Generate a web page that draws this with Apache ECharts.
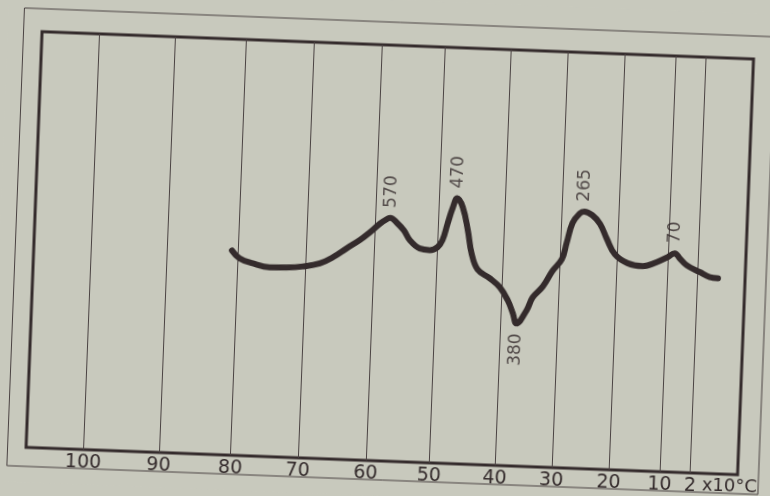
<!DOCTYPE html>
<html>
<head>
<meta charset="utf-8">
<script src="https://cdn.jsdelivr.net/npm/echarts@6/dist/echarts.min.js"></script>
<style>
  html, body { margin: 0; padding: 0; background: #c8c9bd; overflow: hidden; }
  #chart { width: 770px; height: 496px; transform: rotate(2.2deg); }
</style>
</head>
<body>
<div id="chart"></div>
<script>
// x axis is in units of 10 °C, the scale of the recorder is not linear
const tickTemps = [100, 90, 80, 70, 60, 50, 40, 30, 20, 10, 2];
// where each tick sits across the frame, % of the frame width
const tickPos = [8.07, 18.67, 28.74, 38.22, 47.75, 56.67, 65.92, 73.87, 81.92, 89.08, 93.36];

// DTA trace (temperature x10 °C, deflection % of frame height)
const curveT = [80.9, 79.8, 77.8, 75.3, 72.8, 70.4, 67.9, 66.0, 64.0, 62.1, 60.7, 59.2, 58.0, 57.6, 56.5,
  55.4, 54.4, 52.8, 51.2, 50.0, 49.3, 48.6, 47.9, 47.3, 46.4, 45.5, 44.8, 43.8, 41.9, 40.3, 38.9, 37.9,
  37.2, 35.5, 34.5, 32.8, 31.2, 29.6, 28.9, 28.0, 26.8, 26.0, 24.6, 23.2, 21.9, 20.4, 17.9, 14.9,
  12.2, 10.1, 8.3, 6.9, 5.0, 1.5, -1.1, -3.3];
const curveV = [49.2, 47.4, 46.3, 45.5, 45.6, 46.0, 46.9, 48.5, 50.8, 52.9, 54.8, 57.0, 58.3, 58.5, 57.3,
  55.6, 53.3, 51.4, 51.1, 51.9, 53.6, 57.7, 61.6, 63.8, 61.7, 56.2, 50.7, 46.9, 44.9, 42.8, 39.8, 36.7,
  34.3, 37.5, 40.7, 43.4, 47.2, 50.2, 54.0, 58.9, 61.3, 61.8, 61.0, 59.0, 55.4, 51.8, 49.8, 49.2,
  50.3, 51.6, 52.6, 51.4, 49.8, 48.3, 47.2, 47.0];

// peak annotations
const peakT = [57.6, 47.3, 37.2, 26.0, 8.3];
const peakV = [58.5, 63.8, 34.3, 61.8, 52.6];
const peakText = ["570", "470", "380", "265", "70"];
const peakBelow = [false, false, true, false, false];

function warp(t) {
  let i = 0;
  while (i < tickTemps.length - 2 && t < tickTemps[i + 1]) i++;
  const t0 = tickTemps[i], t1 = tickTemps[i + 1];
  return tickPos[i] + (t - t0) * (tickPos[i + 1] - tickPos[i]) / (t1 - t0);
}

const ink = "#342b2c";
const tickVals = tickTemps.map(warp);

const myChart = echarts.init(document.getElementById("chart"));

const options = {
  backgroundColor: "#c8c9bd",
  animation: false,
  graphic: [
    {
      type: "rect",
      shape: { x: 15.5, y: 22, width: 751.5, height: 458 },
      style: { fill: "none", stroke: "#4a4242", lineWidth: 1 },
      silent: true
    }
  ],
  grid: {
    left: 34,
    top: 45,
    width: 712,
    height: 416,
    show: true,
    borderColor: ink,
    borderWidth: 3,
    outerBoundsMode: "none"
  },
  xAxis: {
    type: "value",
    min: 0,
    max: 100,
    name: "x10°C",
    nameLocation: "end",
    nameGap: -45,
    nameTextStyle: {
      fontFamily: "DejaVu Sans",
      fontSize: 18,
      color: ink,
      align: "left",
      verticalAlign: "top",
      padding: [3, 0, 0, 0]
    },
    axisLine: { show: false },
    axisTick: { show: false, customValues: tickVals },
    splitLine: { show: true, lineStyle: { color: "#4a4242", width: 1 } },
    axisLabel: {
      customValues: tickVals,
      interval: 0,
      hideOverlap: false,
      margin: 4,
      fontFamily: "DejaVu Sans",
      fontSize: 19,
      color: ink,
      formatter: function (v) {
        for (let i = 0; i < tickVals.length; i++) {
          if (Math.abs(tickVals[i] - v) < 0.01) return String(tickTemps[i]);
        }
        return "";
      }
    }
  },
  yAxis: {
    type: "value",
    min: 0,
    max: 100,
    show: false,
    splitLine: { show: false }
  },
  series: [
    {
      name: "DTA",
      type: "line",
      smooth: 0.4,
      symbol: "none",
      data: curveT.map((t, i) => [warp(t), curveV[i]]),
      lineStyle: { color: ink, width: 6, cap: "round", join: "round" },
      z: 3
    },
    {
      name: "peaks",
      type: "scatter",
      symbolSize: 0,
      data: peakT.map((t, i) => ({
        value: [warp(t), peakV[i]],
        label: {
          show: true,
          formatter: peakText[i],
          position: peakBelow[i] ? "bottom" : "top",
          distance: 10,
          rotate: 90,
          align: peakBelow[i] ? "right" : "left",
          verticalAlign: "middle",
          fontFamily: "DejaVu Sans",
          fontSize: 17,
          color: ink
        }
      })),
      z: 4
    }
  ]
};

myChart.setOption(options);
</script>
</body>
</html>
